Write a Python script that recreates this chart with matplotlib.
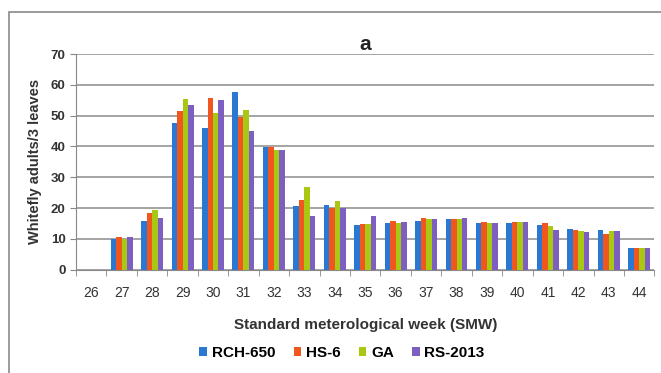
"""Whitefly adults per 3 leaves across standard meteorological weeks, four cultivars."""

import matplotlib

matplotlib.use("Agg")
import matplotlib.pyplot as plt  # noqa: E402
import numpy as np  # noqa: E402
from matplotlib.patches import Rectangle  # noqa: E402

plt.rcParams["font.family"] = ["Liberation Sans", "DejaVu Sans"]

weeks = ["26", "27", "28", "29", "30", "31", "32", "33", "34", "35",
         "36", "37", "38", "39", "40", "41", "42", "43", "44"]
rch_650 = [0, 9.8, 15.7, 47.5, 45.9, 57.6, 39.9, 20.8, 21.1, 14.6,
           15.1, 15.7, 16.3, 15.0, 15.2, 14.4, 13.2, 12.9, 7.1]
hs_6 = [0, 10.5, 18.5, 51.6, 55.6, 49.7, 39.7, 22.5, 20.1, 14.8,
        15.7, 16.8, 16.3, 15.6, 15.4, 15.0, 12.9, 11.6, 7.1]
ga = [0, 10.0, 19.3, 55.3, 50.8, 52.0, 39.0, 26.8, 22.2, 14.8,
      15.3, 16.4, 16.3, 15.2, 15.4, 14.2, 12.7, 12.6, 7.1]
rs_2013 = [0, 10.6, 16.9, 53.6, 55.0, 45.0, 38.7, 17.4, 20.1, 17.4,
           15.5, 16.4, 16.8, 15.2, 15.5, 13.0, 12.2, 12.7, 7.1]

series = [
    ("RCH-650", rch_650, "#2a78d2"),
    ("HS-6", hs_6, "#f0561e"),
    ("GA", ga, "#a8c814"),
    ("RS-2013", rs_2013, "#7d5fc2"),
]

fig = plt.figure(figsize=(6.61, 3.73), dpi=100)
ax = fig.add_axes([0.115, 0.277, 0.875, 0.578])

# outer chart frame
fig.patches.append(Rectangle((0.014, -0.05), 1.2, 1.018, transform=fig.transFigure,
                             fill=False, edgecolor="#8a8a8a", lw=1.2))

x = np.arange(len(weeks))
w = 0.18
for i, (name, vals, color) in enumerate(series):
    ax.bar(x + (i - 1.5) * w, vals, width=w, color=color, label=name, zorder=3)

ax.set_xlim(-0.5, len(weeks) - 0.5)
ax.set_ylim(0, 70)
ax.set_yticks(range(0, 71, 10))
ax.set_xticks(x)
ax.set_xticklabels(weeks)
ax.set_xticks(np.arange(-0.5, len(weeks)), minor=True)
ax.tick_params(axis="x", which="major", length=0, labelsize=10, colors="#333333", pad=12)
ax.tick_params(axis="x", which="minor", length=4, color="#888888")
ax.tick_params(axis="y", length=4, color="#888888", labelsize=9.5, colors="#333333")
for lab in ax.get_yticklabels():
    lab.set_fontweight("bold")

ax.yaxis.grid(True, color="#8c8c8c", lw=1.1, zorder=0)
for side in ("top", "right"):
    ax.spines[side].set_visible(False)
for side in ("left", "bottom"):
    ax.spines[side].set_color("#888888")

ax.set_title("a", fontsize=15, fontweight="bold", color="#222222", pad=0)
ax.set_ylabel("Whitefly adults/3 leaves", fontsize=10.5, fontweight="bold",
              color="#333333", labelpad=6)
ax.set_xlabel("Standard meterological week (SMW)", fontsize=11, fontweight="bold",
              color="#333333", labelpad=13)

ax.legend(loc="upper center", bbox_to_anchor=(0.46, -0.29), ncol=4, frameon=False,
          handlelength=0.5, handleheight=0.5, handletextpad=0.3, columnspacing=1.2,
          prop={"weight": "bold", "size": 11})

fig.savefig("out.png", dpi=100)
